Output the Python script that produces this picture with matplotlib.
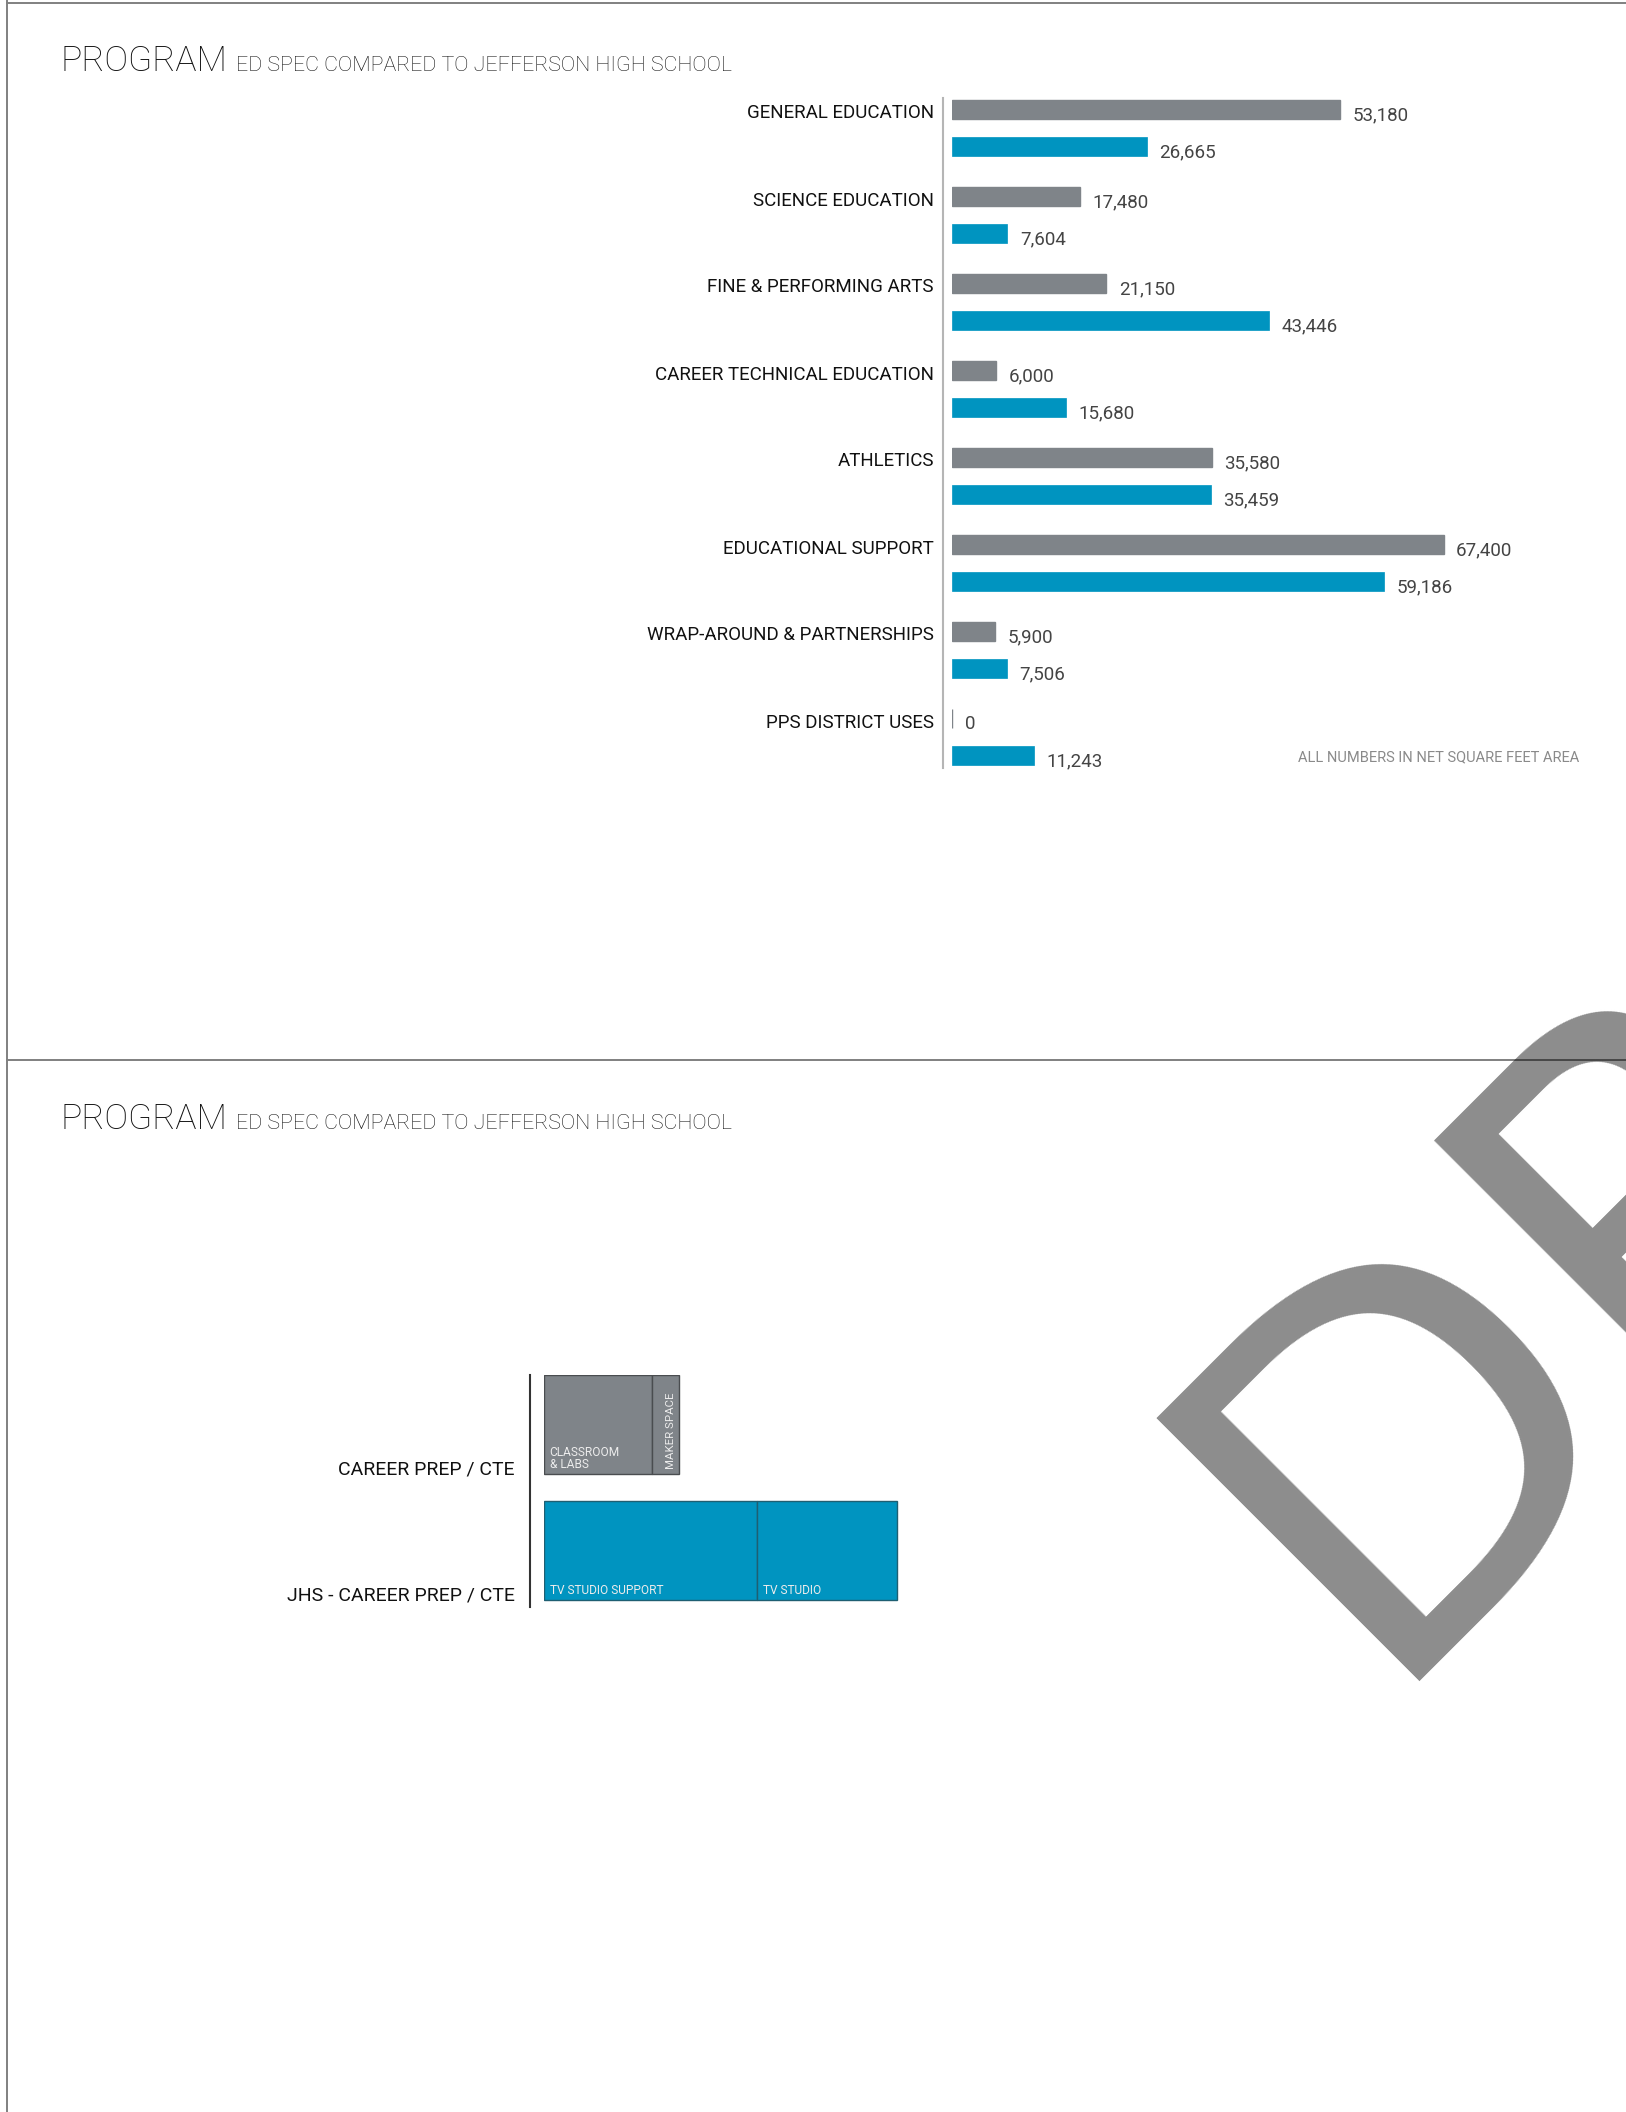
import matplotlib
matplotlib.use("Agg")
import matplotlib.pyplot as plt
import numpy as np
from matplotlib.lines import Line2D

plt.rcParams['font.family'] = ['Roboto', 'DejaVu Sans']

# ---- data -------------------------------------------------------------
categories = ['GENERAL EDUCATION', 'SCIENCE EDUCATION', 'FINE & PERFORMING ARTS',
              'CAREER TECHNICAL EDUCATION', 'ATHLETICS', 'EDUCATIONAL SUPPORT',
              'WRAP-AROUND & PARTNERSHIPS', 'PPS DISTRICT USES']
ed_spec = [53180, 17480, 21150, 6000, 35580, 67400, 5900, 0]
jefferson = [26665, 7604, 43446, 15680, 35459, 59186, 7506, 11243]

cte_rows = ['CAREER PREP / CTE', 'JHS - CAREER PREP / CTE']
cte_parts = [['CLASSROOM\n& LABS', 'MAKER SPACE'], ['TV STUDIO SUPPORT', 'TV STUDIO']]
cte_values = [[4800, 1200], [9480, 6200]]

title = 'PROGRAM'
subtitle = 'ED SPEC COMPARED TO JEFFERSON HIGH SCHOOL'
note = 'ALL NUMBERS IN NET SQUARE FEET AREA'

GRAY = '#7f8489'
BLUE = '#0094c0'
W, H = 1626, 2112


def fx(px):
    return px / W


def fy(py):
    return 1 - py / H


def axes_px(fig, left, top, right, bottom):
    return fig.add_axes([fx(left), fy(bottom), (right - left) / W, (bottom - top) / H])


fig = plt.figure(figsize=(16.26, 21.12), dpi=100)

# page frame
frame = dict(color='#808080', lw=1.4, transform=fig.transFigure)
fig.add_artist(Line2D([fx(7), fx(7)], [0, 1], **frame))
fig.add_artist(Line2D([fx(7), 1], [fy(3), fy(3)], **frame))
fig.add_artist(Line2D([fx(7), 1], [fy(1060), fy(1060)], **frame))

# titles on both pages
for base in (71, 1129):
    fig.text(fx(60), fy(base), title, fontsize=25.5, fontweight='light',
             color='#111111', va='baseline')
    fig.text(fx(236), fy(base), subtitle, fontsize=15.4, fontweight='light',
             color='#111111', va='baseline')

# ---- top chart: grouped horizontal bars --------------------------------
ax = axes_px(fig, 952, 98, 1626, 768)
scale = 388 / 53180  # pixels per sqft
ax.set_xlim(0, 674 / scale)
ax.set_ylim(670, 0)
ax.axis('off')

pitch, gap, bh = 87, 37, 19
y_gray = 11 + pitch * np.arange(len(categories))
y_blue = y_gray + gap

ax.barh(y_gray, ed_spec, height=bh, color=GRAY, edgecolor=GRAY, linewidth=1.0)
ax.barh(y_blue, jefferson, height=bh, color=BLUE, edgecolor=BLUE, linewidth=0.5)

for yg, yb, cat, a, b in zip(y_gray, y_blue, categories, ed_spec, jefferson):
    ax.annotate(cat, (0, yg + bh / 2), xytext=(-13, 0), textcoords='offset points',
                ha='right', va='baseline', fontsize=13.5, color='#111111')
    ax.annotate(f'{a:,}', (a, yg + bh / 2), xytext=(9, -1), textcoords='offset points',
                ha='left', va='baseline', fontsize=13.5, color='#444444')
    ax.annotate(f'{b:,}', (b, yb + bh / 2), xytext=(9, -1), textcoords='offset points',
                ha='left', va='baseline', fontsize=13.5, color='#444444')

fig.add_artist(Line2D([fx(943), fx(943)], [fy(98), fy(768)], color='#b5b5b5', lw=1.5,
                      transform=fig.transFigure))
fig.text(fx(1579), fy(761), note, fontsize=10.5, color='#8a8a8a', ha='right', va='baseline')

# ---- bottom chart: stacked breakdown ------------------------------------
ax2 = axes_px(fig, 544, 1375, 1100, 1607)
scale2 = 353 / 15680
ax2.set_xlim(0, 556 / scale2)
ax2.set_ylim(232, 0)
ax2.axis('off')

row_y = [49.5, 175.5]
row_h = 99
colors = [GRAY, BLUE]
edges = ['#4a4d50', '#1f5f72']
for r, (yy, parts, vals) in enumerate(zip(row_y, cte_parts, cte_values)):
    left = 0
    for k, (name, v) in enumerate(zip(parts, vals)):
        ax2.barh(yy, v, left=left, height=row_h, color=colors[r],
                 edgecolor=edges[r], linewidth=1.0)
        if name == 'MAKER SPACE':
            ax2.annotate(name, (left + v / 2, yy + row_h / 2), xytext=(4, 3.5),
                         textcoords='offset points', rotation=90,
                         ha='center', va='bottom', fontsize=8.2, color='#ececec')
        else:
            ax2.annotate(name, (left, yy + row_h / 2), xytext=(4, 2),
                         textcoords='offset points', ha='left', va='bottom',
                         fontsize=8.6, color='#ececec', linespacing=0.95)
        left += v
    ax2.annotate(cte_rows[r], (0, yy + row_h / 2 + 1), xytext=(-21, 0),
                 textcoords='offset points', ha='right', va='baseline',
                 fontsize=14, color='#111111')

fig.add_artist(Line2D([fx(530), fx(530)], [fy(1375), fy(1607)], color='#333333', lw=1.5,
                      transform=fig.transFigure))

# ---- DRAFT watermark --------------------------------------------------
fig.text(fx(1370), fy(1681), 'DRAFT', fontsize=368, family='DejaVu Sans',
         rotation=45, rotation_mode='anchor', ha='left', va='baseline',
         color='black', alpha=0.45, zorder=10)

fig.savefig('out.png', dpi=100)
